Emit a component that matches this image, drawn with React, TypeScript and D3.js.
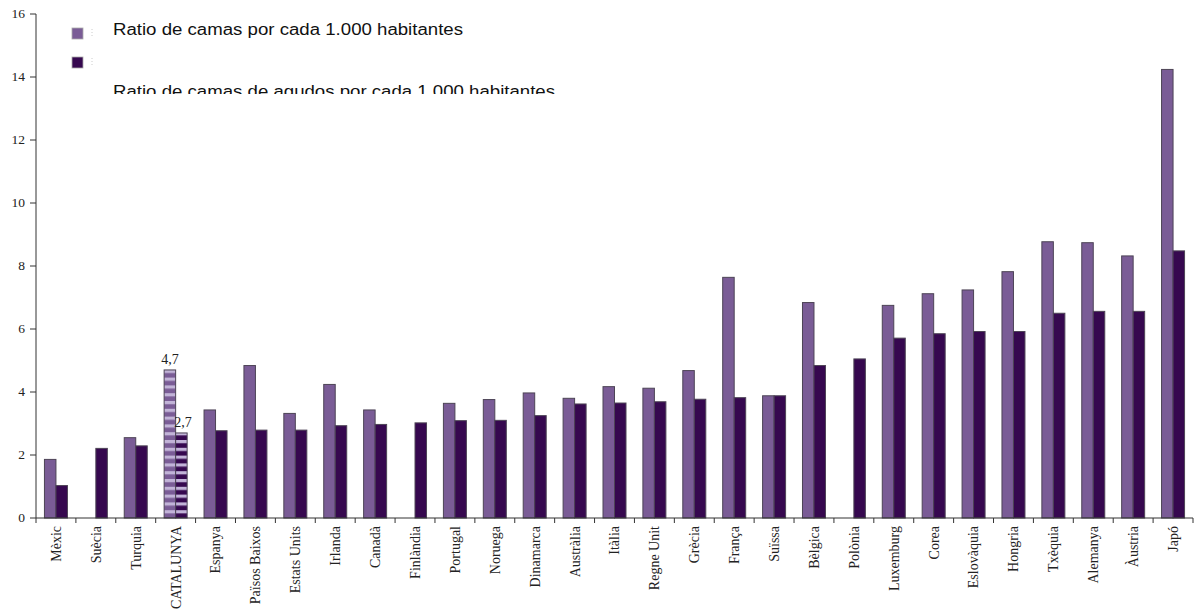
import React from "react";
import * as d3 from "d3";

const categories = [
  "Mèxic", "Suècia", "Turquia", "CATALUNYA", "Espanya", "Països Baixos", "Estats Units",
  "Irlanda", "Canadà", "Finlàndia", "Portugal", "Noruega", "Dinamarca", "Austràlia",
  "Itàlia", "Regne Unit", "Grècia", "França", "Suïssa", "Bèlgica", "Polònia",
  "Luxemburg", "Corea", "Eslovàquia", "Hongria", "Txèquia", "Alemanya", "Àustria", "Japó",
];
const totalBeds: (number | null)[] = [
  1.86, null, 2.55, 4.7, 3.43, 4.84, 3.32,
  4.24, 3.43, null, 3.64, 3.76, 3.97, 3.8,
  4.17, 4.12, 4.68, 7.64, 3.88, 6.84, null,
  6.75, 7.12, 7.24, 7.82, 8.77, 8.74, 8.32, 14.24,
];
const acuteBeds: number[] = [
  1.03, 2.21, 2.29, 2.7, 2.77, 2.79, 2.79,
  2.93, 2.97, 3.02, 3.09, 3.1, 3.25, 3.62,
  3.65, 3.69, 3.77, 3.82, 3.88, 4.84, 5.05,
  5.71, 5.85, 5.92, 5.92, 6.5, 6.56, 6.56, 8.48,
];
const yTicks = [0, 2, 4, 6, 8, 10, 12, 14, 16];
const legendLabels = [
  "Ratio de camas por cada 1.000 habitantes",
  "Ratio de camas de agudos por cada 1.000 habitantes",
];
const highlight = "CATALUNYA";
const highlightLabels = ["4,7", "2,7"];

const W = 1196, H = 615;
const x0 = 36, x1 = 1193, yTop = 14, yBot = 518;
const LIGHT = "#7a5c96";
const DARK = "#36084f";
const STRIPE = "#c2b4d8";
const serif = "'Liberation Serif', 'Times New Roman', serif";
const sans = "'Liberation Sans', Arial, sans-serif";

export default function App() {
  const x = d3.scaleBand<string>().domain(categories).range([x0, x1]).padding(0);
  const y = d3.scaleLinear().domain([0, 16]).range([yBot, yTop]);
  const bw = 11.5;
  const bars: React.ReactNode[] = [];
  const texts: React.ReactNode[] = [];

  categories.forEach((c, i) => {
    const cx = (x(c) as number) + x.bandwidth() / 2;
    const vals = [totalBeds[i], acuteBeds[i]];
    vals.forEach((v, j) => {
      if (v == null) return;
      const bx = cx - bw + j * bw;
      const by = y(v);
      const fill = c === highlight ? `url(#stripe${j})` : j === 0 ? LIGHT : DARK;
      bars.push(
        <rect key={`b${i}-${j}`} x={bx} y={by} width={bw} height={yBot - by}
          fill={fill} stroke="#4d4456" strokeWidth={1} />
      );
      if (c === highlight) {
        texts.push(
          <text key={`h${j}`} x={bx + bw / 2 + (j === 1 ? 1.5 : 0)} y={by - 6} textAnchor="middle"
            fontFamily={serif} fontSize={14} fill="#222">{highlightLabels[j]}</text>
        );
      }
    });
  });

  return (
    <svg width={W} height={H} style={{ position: "absolute", left: 0, top: 0, background: "#fff" }}>
      <defs>
        <pattern id="stripe0" patternUnits="userSpaceOnUse" width={12} height={7.8} y={yBot}>
          <rect width={12} height={7.8} fill={LIGHT} />
          <rect y={0} width={12} height={3.2} fill={STRIPE} />
        </pattern>
        <pattern id="stripe1" patternUnits="userSpaceOnUse" width={12} height={7.8} y={yBot}>
          <rect width={12} height={7.8} fill={DARK} />
          <rect y={0} width={12} height={3.2} fill={STRIPE} />
        </pattern>
        <clipPath id="legclip">
          <rect x={0} y={0} width={700} height={94} />
        </clipPath>
      </defs>

      {bars}
      {texts}

      {/* y axis */}
      <line x1={x0} x2={x0} y1={yTop} y2={yBot} stroke="#333" strokeWidth={1} />
      {yTicks.map((t) => (
        <g key={`yt${t}`}>
          <line x1={x0 - 6} x2={x0} y1={y(t)} y2={y(t)} stroke="#333" />
          <text x={x0 - 11} y={y(t)} dy="0.33em" textAnchor="end" fontFamily={serif}
            fontSize={13.5} fill="#222">{t}</text>
        </g>
      ))}

      {/* x axis */}
      <line x1={x0} x2={x1} y1={yBot} y2={yBot} stroke="#333" strokeWidth={1} />
      {categories.map((c) => (
        <line key={`xt${c}`} x1={(x(c) as number) + x.bandwidth()} x2={(x(c) as number) + x.bandwidth()}
          y1={yBot} y2={yBot + 5} stroke="#333" />
      ))}
      <line x1={x0} x2={x0} y1={yBot} y2={yBot + 5} stroke="#333" />
      {categories.map((c) => {
        const cx = (x(c) as number) + x.bandwidth() / 2;
        return (
          <text key={`xl${c}`} transform={`translate(${cx},${yBot + 8}) rotate(-90)`}
            textAnchor="end" dy="0.35em" fontFamily={serif} fontSize={14} fill="#222">{c}</text>
        );
      })}

      {/* legend */}
      <g clipPath="url(#legclip)">
        <rect x={72} y={28} width={11} height={11} fill={LIGHT} stroke="#aaa" strokeWidth={0.8} />
        <rect x={72} y={57} width={11} height={11} fill={DARK} stroke="#aaa" strokeWidth={0.8} />
        <line x1={92} x2={92} y1={29} y2={38} stroke="#ccc" strokeDasharray="1,2" />
        <line x1={92} x2={92} y1={58} y2={67} stroke="#ccc" strokeDasharray="1,2" />
        <text x={113} y={34.5} fontFamily={sans} fontSize={16} fill="#111"
          textLength={350} lengthAdjust="spacingAndGlyphs">{legendLabels[0]}</text>
        <text x={113} y={97} fontFamily={sans} fontSize={16} fill="#111"
          textLength={442} lengthAdjust="spacingAndGlyphs">{legendLabels[1]}</text>
      </g>
    </svg>
  );
}
